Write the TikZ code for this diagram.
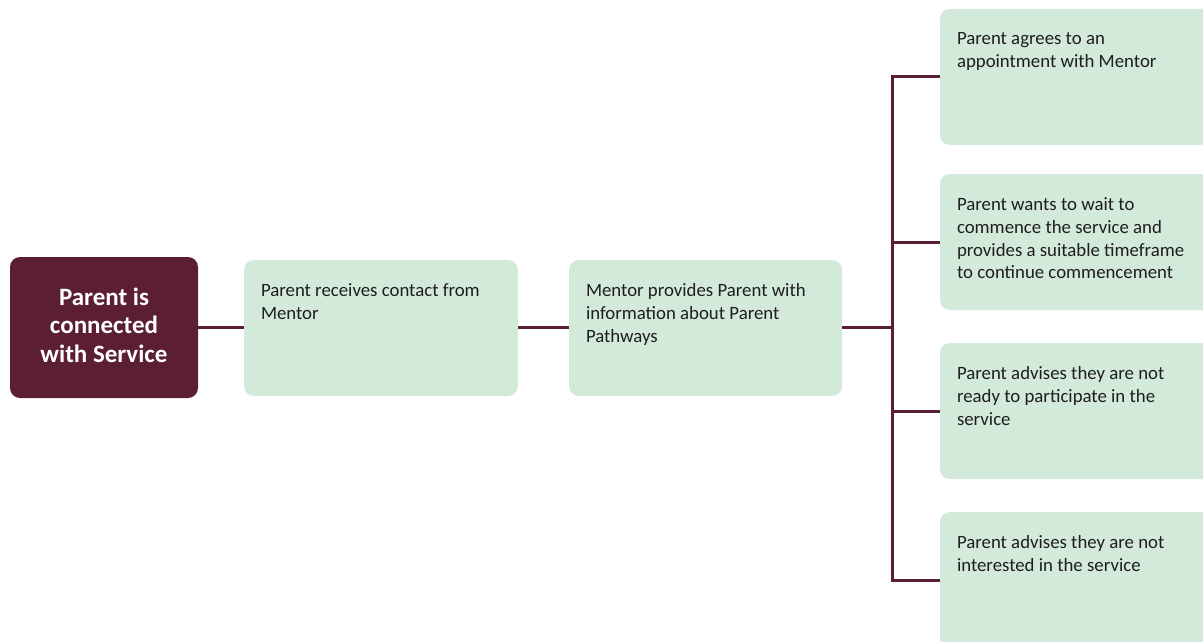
\documentclass[tikz,border=0pt]{standalone}
\usepackage{fontspec}
\setmainfont{Carlito}
\definecolor{maroon}{HTML}{5B1E34}
\definecolor{mint}{HTML}{D3E9DA}
\definecolor{txt}{HTML}{1E1E1E}
\tikzset{
  gbox/.style={fill=mint, rounded corners=10pt, inner sep=0pt, minimum height=136pt},
  dbox/.style={fill=maroon, rounded corners=10pt, inner sep=0pt},
  gtext/.style={anchor=north west, align=left, inner sep=0pt, text=txt,
    font=\fontsize{18.8pt}{22.8pt}\selectfont},
  dtext/.style={align=center, text=white, inner sep=0pt,
    font=\fontsize{25pt}{28.5pt}\selectfont\bfseries},
  conn/.style={draw=maroon, line width=3pt},
}
\begin{document}
\begin{tikzpicture}[x=1pt,y=-1pt]
\clip (0,0) rectangle (1203,642);
\fill[white] (0,0) rectangle (1203,642);
% left boxes
\node[dbox, minimum width=188pt, minimum height=141pt] (a) at (104,327.5) {};
\node[dtext] (at) at (104,325) {Parent is\\connected\\with Service};
\node[gbox, minimum width=274pt] (b) at (381,328) {};
\node[gtext] (bt) at ([shift={(17,23.5)}]b.north west) {Parent receives contact from\\Mentor};
\node[gbox, minimum width=273pt] (c) at (705.5,328) {};
\node[gtext] (ct) at ([shift={(17,23.5)}]c.north west) {Mentor provides Parent with\\information about Parent\\Pathways};
% right boxes
\node[gbox, minimum width=290pt] (r1) at (1085,77) {};
\node[gtext] (r1t) at ([shift={(17,23.5)}]r1.north west) {Parent agrees to an\\appointment with Mentor};
\node[gbox, minimum width=290pt] (r2) at (1085,242) {};
\node[gtext] (r2t) at ([shift={(17,23.5)}]r2.north west) {Parent wants to wait to\\commence the service and\\provides a suitable timeframe\\to continue commencement};
\node[gbox, minimum width=290pt] (r3) at (1085,411) {};
\node[gtext] (r3t) at ([shift={(17,23.5)}]r3.north west) {Parent advises they are not\\ready to participate in the\\service};
\node[gbox, minimum width=290pt] (r4) at (1085,580) {};
\node[gtext] (r4t) at ([shift={(17,23.5)}]r4.north west) {Parent advises they are not\\interested in the service};
% connectors
\coordinate (trunk) at (892.5,327);
\draw[conn] (a.east |- 0,327) -- (b.west |- 0,327);
\draw[conn] (b.east |- 0,327) -- (c.west |- 0,327);
\draw[conn] (c.east |- 0,327) -- (trunk);
\draw[conn, line cap=rect] (trunk |- r1.west) -- (trunk |- r4.west);
\draw[conn] (trunk |- r1.west) -- (r1.west);
\draw[conn] (trunk |- r2.west) -- (r2.west);
\draw[conn] (trunk |- r3.west) -- (r3.west);
\draw[conn] (trunk |- r4.west) -- (r4.west);
\end{tikzpicture}
\end{document}
